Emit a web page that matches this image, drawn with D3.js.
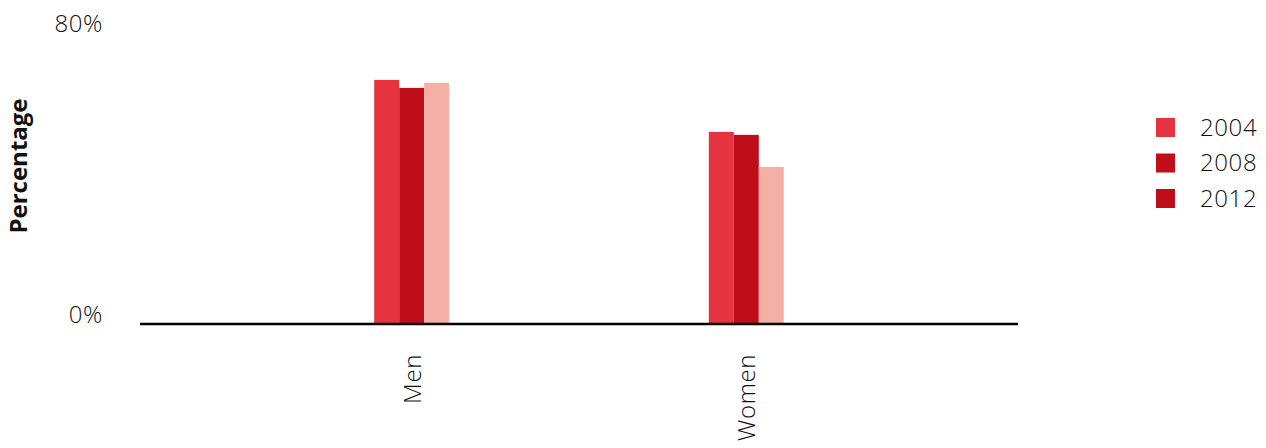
<!DOCTYPE html>
<html><head><meta charset="utf-8">
<script src="https://cdn.jsdelivr.net/npm/d3@7"></script>
<style>
body{margin:0;background:#fff;}
text{font-family:"Open Sans","Noto Sans",sans-serif;}
</style></head>
<body><svg id="c" width="1266" height="448"></svg>
<script>
const categories = ["Men", "Women"];
const years = ["2004", "2008", "2012"];
const v2004 = [67.1, 52.8];
const v2008 = [64.9, 52.0];
const v2012 = [66.3, 43.2];
const yTicks = [0, 80];
const barColors = ["#E5333F", "#C00D1A", "#F4B0A4"];
const legendColors = ["#E5333F", "#C00D1A", "#C00D1A"];

const svg = d3.select("#c");
const series = [v2004, v2008, v2012];

const x = d3.scalePoint().domain(categories).range([140, 1018]).padding(0.812);
const y = d3.scaleLinear().domain([0, 80]).range([324, 33]);
const xs = d3.scaleBand().domain(years).range([-37.5, 37.5]).padding(0);

years.forEach((yr, si) => {
  svg.append("g").selectAll("rect").data(categories).join("rect")
    .attr("x", c => x(c) + xs(yr))
    .attr("width", xs.bandwidth())
    .attr("y", (c, i) => y(series[si][i]))
    .attr("height", (c, i) => y(0) - y(series[si][i]))
    .attr("fill", barColors[si]);
});

svg.append("line").attr("x1", 140).attr("x2", 1018).attr("y1", y(0)).attr("y2", y(0))
  .attr("stroke", "#000").attr("stroke-width", 2.5);

svg.append("g").selectAll("text").data(yTicks).join("text")
  .attr("x", 103).attr("y", d => y(d) - 9).attr("dy", "0.35em")
  .attr("text-anchor", "end").attr("font-size", 24).attr("font-weight", 300)
  .attr("letter-spacing", 0.6).attr("fill", "#111")
  .text(d => d + "%");

svg.append("text").attr("transform", "translate(27,166) rotate(-90)")
  .attr("text-anchor", "middle").attr("font-size", 24).attr("font-weight", 700).attr("fill", "#111")
  .text("Percentage");

svg.append("g").selectAll("text").data(categories).join("text")
  .attr("transform", c => `translate(${x(c) + 9},354) rotate(-90)`)
  .attr("text-anchor", "end").attr("font-size", 24).attr("font-weight", 300)
  .attr("letter-spacing", 0.6).attr("fill", "#111")
  .text(c => c);

const lg = svg.append("g").selectAll("g").data(years).join("g")
  .attr("transform", (d, i) => `translate(1156,${118 + i * 35.5})`);
lg.append("rect").attr("width", 19).attr("height", 19).attr("fill", (d, i) => legendColors[i]);
lg.append("text").attr("x", 44).attr("y", 9.5).attr("dy", "0.35em")
  .attr("font-size", 24).attr("font-weight", 300).attr("letter-spacing", 0.6)
  .attr("fill", "#111").text(d => d);
</script></body></html>
